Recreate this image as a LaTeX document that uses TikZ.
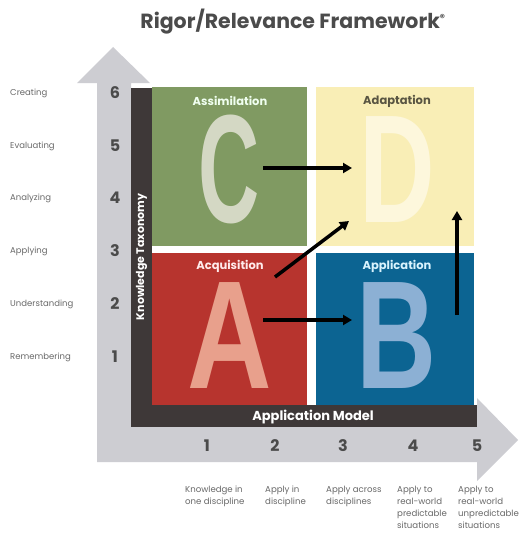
\documentclass[tikz,border=0pt]{standalone}
\usepackage{fontspec}
\setmainfont{Poppins}
\newfontfamily\bigletter{Liberation Sans}
\usetikzlibrary{arrows.meta}
\definecolor{axisgray}{RGB}{205,205,210}
\definecolor{bardark}{RGB}{62,56,56}
\definecolor{quadC}{RGB}{128,154,98}
\definecolor{quadD}{RGB}{249,238,182}
\definecolor{quadA}{RGB}{183,52,46}
\definecolor{quadB}{RGB}{12,100,146}
\definecolor{letC}{RGB}{212,216,196}
\definecolor{letD}{RGB}{253,247,220}
\definecolor{letA}{RGB}{232,160,140}
\definecolor{letB}{RGB}{140,176,212}
\definecolor{txtgray}{RGB}{105,105,105}
\definecolor{numgray}{RGB}{75,75,75}
\begin{document}
\begin{tikzpicture}[x=1pt,y=-1pt,
  every node/.style={inner sep=1pt},
  quadlabel/.style={font=\fontsize{11.5}{13}\selectfont\bfseries},
  bigltr/.style={font=\bigletter\fontsize{154}{154}\selectfont\bfseries,inner sep=0pt,
    text height=110pt,text depth=0pt,anchor=base},
  levellabel/.style={font=\fontsize{8.5}{10}\selectfont,text=txtgray,anchor=west,inner sep=0pt},
  levelnum/.style={font=\fontsize{16}{18}\selectfont\bfseries,text=numgray},
  descr/.style={font=\fontsize{8.6}{12}\selectfont,text=txtgray,anchor=north west,align=left,inner sep=0pt},
  move/.style={line width=3.5pt,-{Triangle[length=9pt,width=10pt]},black}
]
\useasboundingbox (0,0) rectangle (523,535);
\fill[white] (0,0) rectangle (523,535);

% title
\node[font=\fontsize{20.5}{22}\selectfont\bfseries,text=numgray] (title) at (293,22) {Rigor/Relevance Framework\textsuperscript{\fontsize{10}{10}\selectfont®}};

% L-shaped axis arrow
\fill[axisgray] (97,462) -- (97,83) -- (77,83) -- (113,47) -- (150,83) -- (131,83)
  -- (131,407) -- (477,407) -- (477,398) -- (518,440) -- (477,481) -- (477,462) -- cycle;

% dark axis bars
\fill[bardark] (131,88) rectangle (152,427);
\fill[bardark] (131,405) rectangle (477,427);
\node[rotate=90,text=white,font=\fontsize{11}{12}\selectfont\bfseries] (kt) at (141.5,257) {Knowledge Taxonomy};
\node[text=white,font=\fontsize{13}{14}\selectfont\bfseries] (am) at (313,417) {Application Model};

% quadrants
\fill[quadC] (152,87) rectangle (307,246);
\fill[quadD] (316,87) rectangle (474,246);
\fill[quadA] (152,253) rectangle (307,405);
\fill[quadB] (316,253) rectangle (474,405);

% big letters, placed on their baselines
\node[bigltr,text=letC,xscale=0.55] (C) at (229,222) {C};
\node[bigltr,text=letD,xscale=0.68] (D) at (397,222) {D};
\node[bigltr,text=letA,xscale=0.76] (A) at (230,388) {A};
\node[bigltr,text=letB,xscale=0.72] (B) at (397,388) {B};

% quadrant titles
\node[quadlabel,text=white!94!green] (lC) at (230,101) {Assimilation};
\node[quadlabel,text=black!75!yellow] (lD) at (397,101) {Adaptation};
\node[quadlabel,text=white!92!red] (lA) at (230,266) {Acquisition};
\node[quadlabel,text=white!85!cyan] (lB) at (397,266) {Application};

% movement arrows
\coordinate (c1) at (263,168); \coordinate (d1) at (352,168);
\coordinate (a1) at (275,277); \coordinate (d2) at (349,221);
\coordinate (a2) at (263,320); \coordinate (b1) at (352,320);
\coordinate (b2) at (457,315); \coordinate (d3) at (457,211);
\draw[move] (c1) -- (d1);
\draw[move] (a1) -- (d2);
\draw[move] (a2) -- (b1);
\draw[move] (b2) -- (d3);

% knowledge levels
\foreach \n/\y/\t in {6/93/Creating,5/146/Evaluating,4/198/Analyzing,3/251/Applying,2/304/Understanding,1/357/Remembering}{
  \node[levellabel] (lev\n) at (10,\y) {\t};
  \node[levelnum] (num\n) at (115,\y) {\n};
}

% application levels
\foreach \n/\x in {1/207,2/275,3/343,4/413,5/477}{
  \node[levelnum] (app\n) at (\x,446) {\n};
}
\node[descr] (d1t) at (185,486) {Knowledge in\\one discipline};
\node[descr] (d2t) at (265,486) {Apply in\\discipline};
\node[descr] (d3t) at (326,486) {Apply across\\disciplines};
\node[descr] (d4t) at (397,486) {Apply to\\real-world\\predictable\\situations};
\node[descr] (d5t) at (458,486) {Apply to\\real-world\\unpredictable\\situations};
\end{tikzpicture}
\end{document}
